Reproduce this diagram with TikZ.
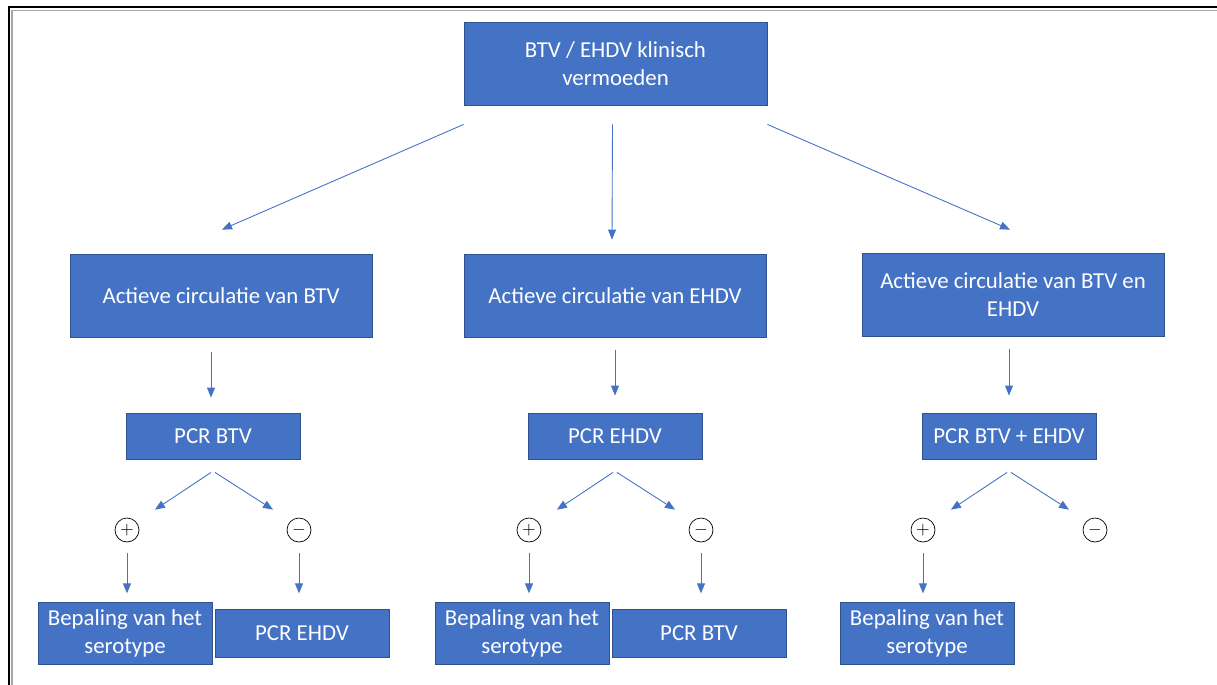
\documentclass[tikz,border=0pt]{standalone}
\usepackage{fontspec}
\setmainfont{Carlito}
\usepackage{tikz}
\usetikzlibrary{arrows.meta, calc}
\definecolor{boxblue}{HTML}{4472C4}
\definecolor{boxedge}{HTML}{2F528F}

\begin{document}
\begin{tikzpicture}[x=0.02cm, y=-0.02cm,
    box/.style={draw=boxedge, line width=0.5pt, fill=boxblue, text=white, align=center,
        font=\fontsize{13pt}{16pt}\selectfont, inner sep=0pt},
    sign/.style={draw, circle, line width=0.4pt, minimum size=0.48cm, inner sep=0pt},
    arr/.style={draw=boxblue, line width=0.5pt, -{Triangle[length=2mm, width=1.6mm]}}]
        \useasboundingbox (0,0) rectangle (1217,684);

        % Frame
        \draw[black, line width=1.3pt] (9,700) -- (9,7) -- (1230,7);
        \draw[gray!70, line width=0.6pt] (12,700) -- (12,10.5) -- (1230,10.5);

        % Top
        \node[box, minimum width=6.06cm, minimum height=1.66cm] (top) at (615.5,63.5) {BTV / EHDV klinisch\\vermoeden};

        % Circulation
        \node[box, minimum width=6.04cm, minimum height=1.66cm] (actA) at (221,295.5) {Actieve circulatie van BTV};
        \node[box, minimum width=6.04cm, minimum height=1.66cm] (actB) at (615,295.5) {Actieve circulatie van EHDV};
        \node[box, minimum width=6.04cm, minimum height=1.66cm] (actC) at (1013,294.5) {Actieve circulatie van BTV en\\EHDV};

        % PCR
        \node[box, minimum width=3.48cm, minimum height=0.92cm] (pcrA) at (213,436) {PCR BTV};
        \node[box, minimum width=3.48cm, minimum height=0.92cm] (pcrB) at (615,436) {PCR EHDV};
        \node[box, minimum width=3.48cm, minimum height=0.92cm] (pcrC) at (1009,436) {PCR BTV + EHDV};

        % Results
        \foreach \c/\x in {A/213, B/615, C/1009} {
            \node[sign] (plus\c) at (\x-86,530) {$+$};
            \node[sign] (min\c) at (\x+86,530) {$-$};
        }

        % Follow-up
        \node[box, minimum width=3.48cm, minimum height=1.24cm] (serA) at (125,633) {Bepaling van het\\serotype};
        \node[box, minimum width=3.48cm, minimum height=0.96cm] (nextA) at (302,633) {PCR EHDV};
        \node[box, minimum width=3.48cm, minimum height=1.24cm] (serB) at (522,633) {Bepaling van het\\serotype};
        \node[box, minimum width=3.48cm, minimum height=0.96cm] (nextB) at (699,633) {PCR BTV};
        \node[box, minimum width=3.48cm, minimum height=1.24cm] (serC) at (927,633) {Bepaling van het\\serotype};

        % Arrows
        \draw[arr] ($(top.south west)+(0,19)$) -- ($(actA.north)+(1,-24)$);
        \draw[arr] ($(top.south)+(-3,19)$) -- ($(actB.north)+(-3,-14)$);
        \draw[arr] ($(top.south east)+(0,19)$) -- ($(actC.north)+(-3,-23)$);

        \draw[arr] ($(actA.south)+(-10,15)$) -- ($(pcrA.north)+(-2,-15)$);
        \draw[arr] ($(actB.south)+(0,13)$) -- ($(pcrB.north)+(0,-17)$);
        \draw[arr] ($(actC.south)+(-4,13)$) -- ($(pcrC.north)+(0,-17)$);

        \foreach \c in {A,B,C} {
            \draw[arr] ($(pcr\c.south)+(-2,13)$) -- ($(plus\c.north)+(28,-8)$);
            \draw[arr] ($(pcr\c.south)+(2,13)$) -- ($(min\c.north)+(-26,-8)$);
            \draw[arr] ($(plus\c.south)+(0,11)$) -- ++(0,40);
        }
        \foreach \c in {A,B} {
            \draw[arr] ($(min\c.south)+(0,11)$) -- ++(0,40);
        }
    \end{tikzpicture}
\end{document}
